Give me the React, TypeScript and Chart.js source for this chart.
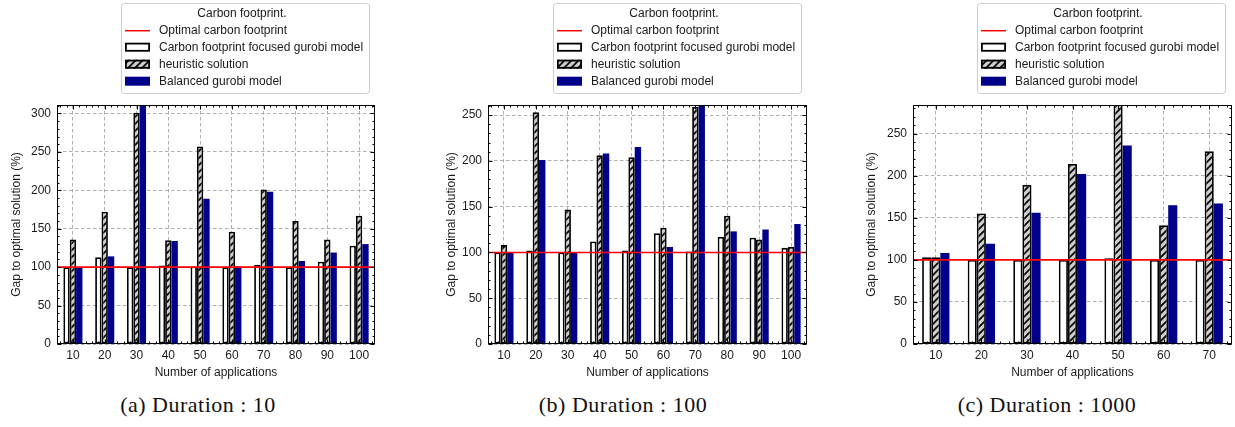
import React, { useEffect, useRef } from "react";
import { Chart, registerables } from "chart.js";

Chart.register(...registerables);

// ---------------- data ----------------
const CATEGORIES_A = ["10", "20", "30", "40", "50", "60", "70", "80", "90", "100"];
const FOCUSED_A = [100, 113, 100, 102, 101, 100, 103, 100, 107, 128];
const HEURISTIC_A = [136, 172, 301, 135, 257, 146, 201, 160, 136, 167];
const BALANCED_A = [100, 114, 318, 134, 189, 101, 198, 108, 119, 130];

const CATEGORIES_B = ["10", "20", "30", "40", "50", "60", "70", "80", "90", "100"];
const FOCUSED_B = [100, 102, 100, 112, 102, 121, 101, 117, 116, 105];
const HEURISTIC_B = [108, 253, 147, 206, 204, 127, 259, 140, 114, 106];
const BALANCED_B = [100, 201, 100, 208, 215, 106, 268, 123, 125, 131];

const CATEGORIES_C = ["10", "20", "30", "40", "50", "60", "70"];
const FOCUSED_C = [103, 100, 100, 100, 102, 100, 100];
const HEURISTIC_C = [103, 155, 189, 214, 292, 141, 229];
const BALANCED_C = [108, 119, 156, 202, 236, 165, 167];

const Y_MAX_A = 311;
const Y_MAX_B = 261;
const Y_MAX_C = 284;
const Y_STEP = 50;
const Y_MINOR_STEP = 10;
const OPTIMAL_VALUE = 100;

const LEGEND_TITLE = "Carbon footprint.";
const OPTIMAL_LABEL = "Optimal carbon footprint";
const SERIES_LABELS = [
  "Carbon footprint focused gurobi model",
  "heuristic solution",
  "Balanced gurobi model",
];
const X_TITLE = "Number of applications";
const Y_TITLE = "Gap to optimal solution (%)";
const CAPTIONS = ["(a) Duration : 10", "(b) Duration : 100", "(c) Duration : 1000"];

// ---------------- styles ----------------
const FONT = '"Liberation Sans", Arial, Helvetica, sans-serif';
const FONT_SIZE = 12;
const TEXT_COLOR = "#1a1a1a";
const GRID_COLOR = "#9a9a9a";
const NAVY = "#00008b";
const HATCH_BG = "#cdcdcd";

function makeHatch(): CanvasPattern | string {
  const s = 7;
  const c = document.createElement("canvas");
  c.width = s;
  c.height = s;
  const g = c.getContext("2d");
  if (!g) return HATCH_BG;
  g.fillStyle = HATCH_BG;
  g.fillRect(0, 0, s, s);
  g.strokeStyle = "#000";
  g.lineWidth = 1.7;
  g.beginPath();
  g.moveTo(0, s);
  g.lineTo(s, 0);
  g.moveTo(-2, 2);
  g.lineTo(2, -2);
  g.moveTo(s - 2, s + 2);
  g.lineTo(s + 2, s - 2);
  g.stroke();
  return g.createPattern(c, "repeat") || HATCH_BG;
}

const framePlugin = {
  id: "frameTicks",
  afterDatasetsDraw(chart: any) {
    const { ctx, chartArea, scales } = chart;
    const { left, right, top, bottom } = chartArea;
    const x = scales.x;
    const y = scales.y;
    ctx.save();
    // optimal line
    const yp = y.getPixelForValue(OPTIMAL_VALUE);
    ctx.strokeStyle = "#ff0000";
    ctx.lineWidth = 1.6;
    ctx.beginPath();
    ctx.moveTo(left, yp);
    ctx.lineTo(right, yp);
    ctx.stroke();

    // frame
    ctx.strokeStyle = "#000";
    ctx.lineWidth = 1;
    const L = Math.round(left) + 0.5;
    const R = Math.round(right) - 0.5;
    const T = Math.round(top) + 0.5;
    const B = Math.round(bottom) - 0.5;
    ctx.strokeRect(L, T, R - L, B - T);

    // y ticks (inward, both sides)
    ctx.beginPath();
    for (let v = 0; v <= y.max + 1e-6; v += Y_MINOR_STEP) {
      const p = Math.round(y.getPixelForValue(v)) + 0.5;
      const len = v % Y_STEP === 0 ? 4 : 2;
      ctx.moveTo(L, p);
      ctx.lineTo(L + len, p);
      ctx.moveTo(R, p);
      ctx.lineTo(R - len, p);
    }
    // x ticks (inward, top and bottom)
    const n = chart.data.labels.length;
    for (let k = -2; k <= n * 5 - 3; k++) {
      const v = k / 5;
      const p = Math.round(x.getPixelForValue(v)) + 0.5;
      const len = k % 5 === 0 ? 4 : 2;
      ctx.moveTo(p, B);
      ctx.lineTo(p, B - len);
      ctx.moveTo(p, T);
      ctx.lineTo(p, T + len);
    }
    ctx.stroke();
    ctx.restore();
  },
};

const legendPlugin = {
  id: "carbonLegend",
  afterDraw(chart: any, _args: any, opts: any) {
    const ctx = chart.ctx;
    const x0 = opts.left;
    const y0 = 3;
    const w = 248;
    const h = 90;
    ctx.save();
    ctx.fillStyle = "#ffffff";
    ctx.strokeStyle = "#cccccc";
    ctx.lineWidth = 1;
    ctx.beginPath();
    if (ctx.roundRect) ctx.roundRect(x0 + 0.5, y0 + 0.5, w, h, 3);
    else ctx.rect(x0 + 0.5, y0 + 0.5, w, h);
    ctx.fill();
    ctx.stroke();

    ctx.font = `${FONT_SIZE}px ${FONT}`;
    ctx.fillStyle = TEXT_COLOR;
    ctx.textBaseline = "middle";
    ctx.textAlign = "center";
    ctx.fillText(LEGEND_TITLE, x0 + w / 2 - 3, y0 + 10.5);
    ctx.textAlign = "left";

    const rows: any[] = [{ label: OPTIMAL_LABEL, line: true }];
    chart.data.datasets.forEach((d: any) => rows.push({ label: d.label, ds: d }));
    rows.forEach((r, i) => {
      const cy = y0 + 27.7 + i * 17;
      const hx = x0 + 4;
      if (r.line) {
        ctx.strokeStyle = "#ff0000";
        ctx.lineWidth = 1.5;
        ctx.beginPath();
        ctx.moveTo(hx, cy);
        ctx.lineTo(hx + 25, cy);
        ctx.stroke();
      } else {
        ctx.fillStyle = r.ds.backgroundColor;
        ctx.fillRect(hx, cy - 5, 25, 9);
        if (r.ds.borderWidth) {
          ctx.strokeStyle = "#000";
          ctx.lineWidth = 1.8;
          ctx.strokeRect(hx + 0.9, cy - 4.1, 23.2, 7.2);
        }
      }
      ctx.fillStyle = TEXT_COLOR;
      ctx.fillText(r.label, x0 + 38, cy);
    });
    ctx.restore();
  },
};

type PanelCfg = {
  left: number;
  width: number;
  categories: string[];
  focused: number[];
  heuristic: number[];
  balanced: number[];
  yMax: number;
  yWidth: number;
  yTitlePad: number;
  padRight: number;
  legendLeft: number;
};

const CANVAS_H = 385;

function Panel({ cfg }: { cfg: PanelCfg }) {
  const ref = useRef<HTMLCanvasElement>(null);
  useEffect(() => {
    if (!ref.current) return;
    const hatch = makeHatch();
    const tickFont = { family: FONT, size: FONT_SIZE };
    const chart = new Chart(ref.current, {
      type: "bar",
      data: {
        labels: cfg.categories,
        datasets: [
          {
            label: SERIES_LABELS[0],
            data: cfg.focused,
            backgroundColor: "#ffffff",
            borderColor: "#000000",
            borderWidth: 1.8,
            borderSkipped: false,
            clip: 0,
          },
          {
            label: SERIES_LABELS[1],
            data: cfg.heuristic,
            backgroundColor: hatch as any,
            borderColor: "#000000",
            borderWidth: 1.8,
            borderSkipped: false,
            clip: 0,
          },
          {
            label: SERIES_LABELS[2],
            data: cfg.balanced,
            backgroundColor: NAVY,
            borderWidth: 0,
            clip: 0,
          },
        ],
      },
      options: {
        responsive: false,
        animation: false,
        devicePixelRatio: 1,
        layout: { padding: { left: 0, top: 105, right: cfg.padRight, bottom: 0 } },
        datasets: { bar: { categoryPercentage: 0.6, barPercentage: 1 } },
        plugins: {
          legend: { display: false },
          tooltip: { enabled: false },
          carbonLegend: { left: cfg.legendLeft },
        } as any,
        scales: {
          x: {
            grid: { offset: false, color: GRID_COLOR, lineWidth: 0.8, drawTicks: false },
            border: { display: false, dash: [3.5, 2.5] },
            ticks: { padding: 4.5, color: TEXT_COLOR, font: tickFont, maxRotation: 0 },
            title: {
              display: true,
              text: X_TITLE,
              color: TEXT_COLOR,
              font: tickFont,
              padding: { top: 0, bottom: 4.8 },
            },
            afterFit: (s: any) => {
              s.height = CANVAS_H - 344;
            },
          },
          y: {
            min: 0,
            max: cfg.yMax,
            grid: { color: GRID_COLOR, lineWidth: 0.8, drawTicks: false },
            border: { display: false, dash: [3.5, 2.5] },
            ticks: {
              stepSize: Y_STEP,
              includeBounds: false,
              padding: 6,
              color: TEXT_COLOR,
              font: tickFont,
            },
            title: {
              display: true,
              text: Y_TITLE,
              color: TEXT_COLOR,
              font: tickFont,
              padding: { top: cfg.yTitlePad, bottom: 0 },
            },
            afterFit: (s: any) => {
              s.width = cfg.yWidth;
            },
          },
        },
      } as any,
      plugins: [framePlugin, legendPlugin],
    });
    return () => chart.destroy();
  }, [cfg]);
  return (
    <canvas
      ref={ref}
      width={cfg.width}
      height={CANVAS_H}
      style={{ position: "absolute", left: cfg.left, top: 0, width: cfg.width, height: CANVAS_H }}
    />
  );
}

const PANELS: PanelCfg[] = [
  {
    left: 0,
    width: 412,
    categories: CATEGORIES_A,
    focused: FOCUSED_A,
    heuristic: HEURISTIC_A,
    balanced: BALANCED_A,
    yMax: Y_MAX_A,
    yWidth: 57,
    yTitlePad: 9.8,
    padRight: 412 - 375,
    legendLeft: 121,
  },
  {
    left: 415,
    width: 412,
    categories: CATEGORIES_B,
    focused: FOCUSED_B,
    heuristic: HEURISTIC_B,
    balanced: BALANCED_B,
    yMax: Y_MAX_B,
    yWidth: 488 - 415,
    yTitlePad: 29.5,
    padRight: 827 - 807,
    legendLeft: 553 - 415,
  },
  {
    left: 830,
    width: 405,
    categories: CATEGORIES_C,
    focused: FOCUSED_C,
    heuristic: HEURISTIC_C,
    balanced: BALANCED_C,
    yMax: Y_MAX_C,
    yWidth: 913 - 830,
    yTitlePad: 34.5,
    padRight: 1235 - 1232,
    legendLeft: 977 - 830,
  },
];

const CAPTION_CENTERS = [198, 623, 1047];

export default function App() {
  return (
    <div style={{ position: "absolute", left: 0, top: 0, width: 1235, height: 427, background: "#fff" }}>
      {PANELS.map((p, i) => (
        <Panel key={i} cfg={p} />
      ))}
      {CAPTIONS.map((c, i) => (
        <div
          key={c}
          style={{
            position: "absolute",
            left: CAPTION_CENTERS[i] - 150,
            width: 300,
            top: 391,
            textAlign: "center",
            fontFamily: '"Liberation Serif", "DejaVu Serif", serif',
            fontSize: 22,
            letterSpacing: 0.5,
            lineHeight: "28px",
            color: "#111",
            whiteSpace: "pre",
          }}
        >
          {c}
        </div>
      ))}
    </div>
  );
}
